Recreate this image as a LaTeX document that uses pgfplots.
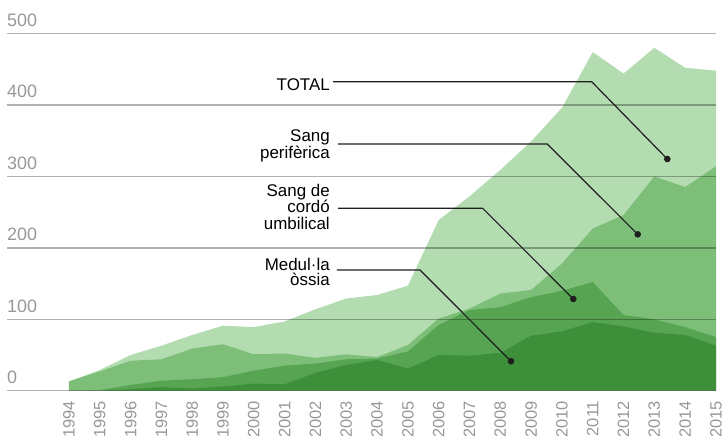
\documentclass[border=0pt]{standalone}
\usepackage{fontspec}
\setmainfont{Liberation Sans}
\usepackage{pgfplots}
\usepackage{pgfplotstable}
\pgfplotsset{compat=1.18}
\definecolor{areacol}{RGB}{179,221,176}
\definecolor{gridcol}{RGB}{178,178,178}
\definecolor{tickcol}{RGB}{152,152,152}
\definecolor{leadcol}{RGB}{30,30,30}

\pgfplotstableread{
year total peri cordo medul
1994 13 13 0 0
1995 29 27 1 0
1996 50 42 8 2
1997 63 44 14 5
1998 78 59 16 3
1999 91 65 19 6
2000 89 51 28 10
2001 97 52 35 9
2002 114 46 38 25
2003 129 51 44 36
2004 134 47 45 43
2005 147 64 55 31
2006 239 101 92 50
2007 272 115 113 49
2008 309 136 117 53
2009 349 141 131 77
2010 396 178 140 83
2011 474 227 152 96
2012 444 246 106 90
2013 480 300 100 81
2014 452 285 89 78
2015 448 314 75 63
}\datatable

\begin{document}
\begin{tikzpicture}
\begin{axis}[name=ax, at={(0,0)}, anchor=south west,
  scale only axis, width=647bp, height=357.2bp,
  xmin=1994, xmax=2015, ymin=0, ymax=500,
  axis line style={draw=none}, major tick length=0pt,
  xtick={1994,...,2015}, ytick={0,100,...,500},
  /pgf/number format/assume math mode=true,
  /pgf/number format/1000 sep={},
  xticklabel style={rotate=90, anchor=east, inner sep=0pt,
    font=\fontsize{16.5}{16.5}\selectfont, text=tickcol},
  xticklabel shift=10bp,
  yticklabel style={anchor=base west, inner sep=0pt, xshift=-62bp, yshift=7bp,
    font=\fontsize{18}{18}\selectfont, text=tickcol},
  clip=false,
]
% grid lines
\foreach \v in {0,100,...,500}{
  \edef\temp{\noexpand\draw[gridcol, line width=1.5bp] ([xshift=-62bp]axis cs:1994,\v) -- (axis cs:2015,\v);}
  \temp
}
% areas
\addplot[draw=none, fill=areacol, blend mode=multiply] table[x=year,y=total]{\datatable} \closedcycle;
\addplot[draw=none, fill=areacol, blend mode=multiply] table[x=year,y=peri]{\datatable} \closedcycle;
\addplot[draw=none, fill=areacol, blend mode=multiply] table[x=year,y=cordo]{\datatable} \closedcycle;
\addplot[draw=none, fill=areacol, blend mode=multiply] table[x=year,y=medul]{\datatable} \closedcycle;
% leaders
\draw[leadcol, line width=1.2bp] (axis cs:2002.569,432.5) -- (axis cs:2010.966,432.5) -- (axis cs:2013.419,324.3);
\fill[leadcol] (axis cs:2013.419,324.3) circle[radius=3.3bp];
\draw[leadcol, line width=1.2bp] (axis cs:2002.731,345.3) -- (axis cs:2009.524,345.3) -- (axis cs:2012.459,218.9);
\fill[leadcol] (axis cs:2012.459,218.9) circle[radius=3.3bp];
\draw[leadcol, line width=1.2bp] (axis cs:2002.731,255.3) -- (axis cs:2007.428,255.3) -- (axis cs:2010.368,128.4);
\fill[leadcol] (axis cs:2010.368,128.4) circle[radius=3.3bp];
\draw[leadcol, line width=1.2bp] (axis cs:2002.698,169.0) -- (axis cs:2005.393,169.0) -- (axis cs:2008.346,41.2);
\fill[leadcol] (axis cs:2008.346,41.2) circle[radius=3.3bp];
% labels
\tikzset{lab/.style={anchor=base east, inner sep=0pt, font=\fontsize{17}{17}\selectfont, text=black}}
\node[lab] at (axis cs:2002.47,419.9) {TOTAL};
\node[lab] at (axis cs:2002.47,348.8) {Sang};
\node[lab] at (axis cs:2002.47,325.7) {perifèrica};
\node[lab] at (axis cs:2002.47,272.5) {Sang de};
\node[lab] at (axis cs:2002.47,249.4) {cordó};
\node[lab] at (axis cs:2002.47,226.3) {umbilical};
\node[lab] at (axis cs:2002.47,168.5) {Medul·la};
\node[lab] at (axis cs:2002.47,146.6) {òssia};
\end{axis}
\pgfresetboundingbox
\useasboundingbox ([xshift=-69bp,yshift=-49.3bp]ax.south west) rectangle ++(724bp,440bp);
\end{tikzpicture}
\end{document}
